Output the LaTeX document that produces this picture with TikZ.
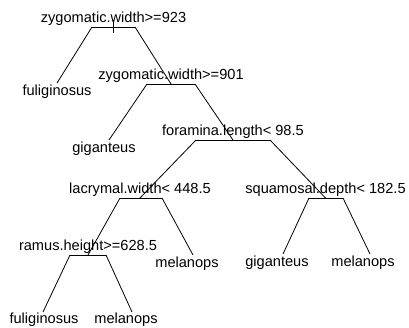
\documentclass[tikz,border=0pt]{standalone}
\usepackage{fontspec}
\setmainfont{Liberation Sans}
\usetikzlibrary{calc}
\begin{document}
\begin{tikzpicture}[x=1pt,y=-1pt,line width=0.8pt,
  lbl/.style={font=\fontsize{14.6}{16}\selectfont,inner sep=0pt,anchor=base},
  branch/.style={draw=black,line width=0.8pt}]
\useasboundingbox (0,0) rectangle (409,327);

% split points (centre of each split) and the ends of their shoulders
\coordinate (n1) at (113.5,27);  \coordinate (n1L) at (92,27);   \coordinate (n1R) at (135,27);
\coordinate (n2) at (171,84);    \coordinate (n2L) at (147,84);  \coordinate (n2R) at (195,84);
\coordinate (n3) at (233,140);   \coordinate (n3L) at (196,140); \coordinate (n3R) at (270,140);
\coordinate (n4) at (140,198);   \coordinate (n4L) at (120,198); \coordinate (n4R) at (162,198);
\coordinate (n5) at (88,255);    \coordinate (n5L) at (70,255);  \coordinate (n5R) at (106,255);
\coordinate (n6) at (325.5,198); \coordinate (n6L) at (309,198); \coordinate (n6R) at (343,198);
\coordinate (rtop) at (113.5,20); \coordinate (rbot) at (113.5,33);

% leaves
\coordinate (l1) at (57,83);
\coordinate (l2) at (109,140);
\coordinate (l3) at (43,312);
\coordinate (l4) at (132,312);
\coordinate (l5) at (193,255);
\coordinate (l6) at (283,254);
\coordinate (l7) at (370,254);

% branches
\draw[branch] (rtop) -- (rbot);
\draw[branch] (n1L) -- (n1R);
\draw[branch] (n1L) -- (l1);
\draw[branch] (n1R) -- (n2);
\draw[branch] (n2L) -- (n2R);
\draw[branch] (n2L) -- (l2);
\draw[branch] (n2R) -- (n3);
\draw[branch] (n3L) -- (n3R);
\draw[branch] (n3L) -- (n4);
\draw[branch] (n3R) -- (n6);
\draw[branch] (n4L) -- (n4R);
\draw[branch] (n4L) -- (n5);
\draw[branch] (n4R) -- (l5);
\draw[branch] (n5L) -- (n5R);
\draw[branch] (n5L) -- (l3);
\draw[branch] (n5R) -- (l4);
\draw[branch] (n6L) -- (n6R);
\draw[branch] (n6L) -- (l6);
\draw[branch] (n6R) -- (l7);

% split labels
\node[lbl] (s1) at ($(n1)+(0,-4.7)$) {zygomatic.width>=923};
\node[lbl] (s2) at ($(n2)+(0,-5)$) {zygomatic.width>=901};
\node[lbl] (s3) at ($(n3)+(0,-5)$) {foramina.length< 98.5};
\node[lbl] (s4) at ($(n4)+(0,-5)$) {lacrymal.width< 448.5};
\node[lbl] (s5) at ($(n5)+(0,-5)$) {ramus.height>=628.5};
\node[lbl] (s6) at ($(n6)+(0,-5)$) {squamosal.depth< 182.5};

% leaf labels
\node[lbl] (t1) at (57,95.5)   {fuliginosus};
\node[lbl] (t2) at (104,152)   {giganteus};
\node[lbl] (t3) at (44,323.5)  {fuliginosus};
\node[lbl] (t4) at (126,323.5) {melanops};
\node[lbl] (t5) at (187,267)   {melanops};
\node[lbl] (t6) at (277,266)   {giganteus};
\node[lbl] (t7) at (363,266)   {melanops};
\end{tikzpicture}
\end{document}
